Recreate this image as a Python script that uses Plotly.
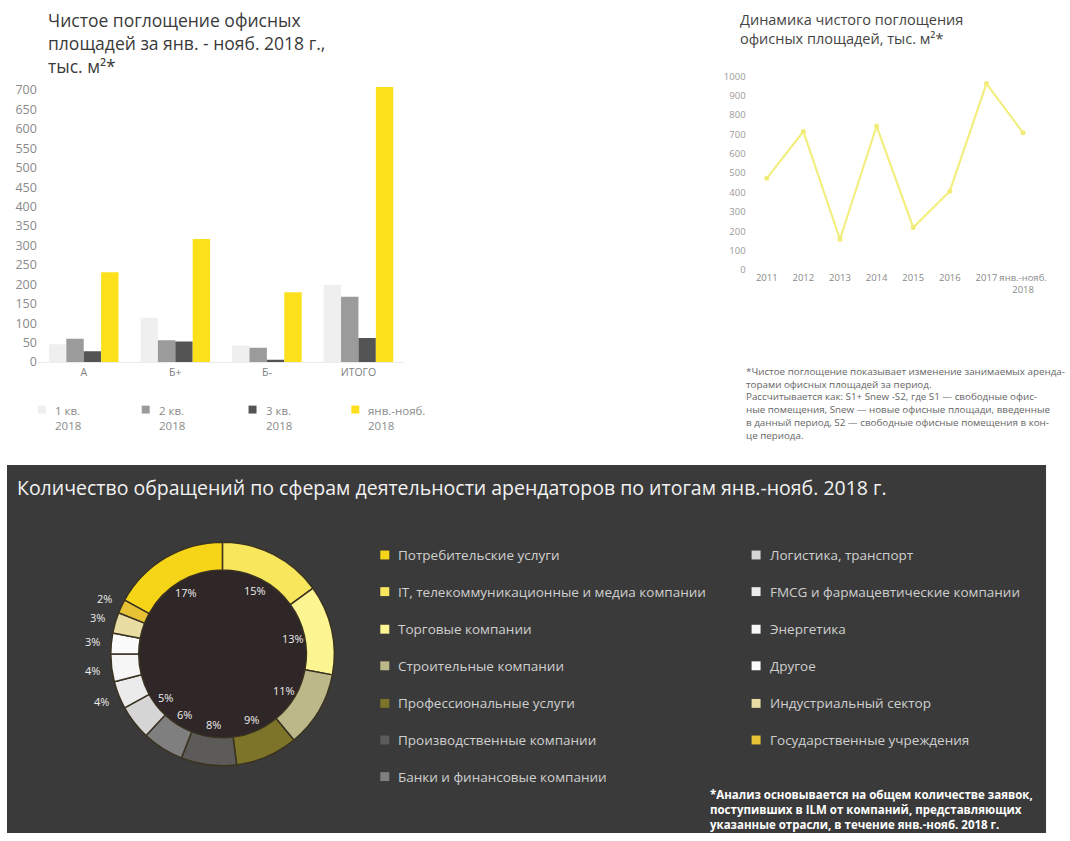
import math
import plotly.graph_objects as go

W, H = 1070, 841


def px(x):
    return x / W


def py(y):
    return 1 - y / H


# ---- Net absorption by class, Jan-Nov 2018 (thousand sq. m) ----
bar_categories = ["А", "Б+", "Б-", "ИТОГО"]
q1_2018 = [46, 114, 43, 199]
q2_2018 = [60, 56, 37, 168]
q3_2018 = [28, 53, 6, 62]
jan_nov_2018 = [231, 317, 180, 708]
bar_series_names = ["1 кв.<br>2018", "2 кв.<br>2018", "3 кв.<br>2018", "янв.-нояб.<br>2018"]
bar_colors = ["#efefef", "#9b9b9b", "#545454", "#fde01c"]

# ---- Net absorption dynamics (thousand sq. m) ----
years = ["2011", "2012", "2013", "2014", "2015", "2016", "2017", "янв.-нояб.<br>2018"]
absorption = [473, 715, 159, 743, 220, 407, 962, 708]

# ---- Tenant requests by industry, Jan-Nov 2018 (%) ----
sectors = [
    "Потребительские услуги",
    "IT, телекоммуникационные и медиа компании",
    "Торговые компании",
    "Строительные компании",
    "Профессиональные услуги",
    "Производственные компании",
    "Банки и финансовые компании",
    "Логистика, транспорт",
    "FMCG и фармацевтические компании",
    "Энергетика",
    "Другое",
    "Индустриальный сектор",
    "Государственные учреждения",
]
sector_share = [17, 15, 13, 11, 9, 8, 6, 5, 4, 4, 3, 3, 2]
sector_colors = [
    "#f6d417", "#f8e65c", "#fcf592", "#bdb88a", "#7d7429", "#5d5b59", "#7f7f7f",
    "#d5d5d5", "#ebebeb", "#f6f6f6", "#fbfbfb", "#eadda3", "#e6c234",
]

fig = go.Figure()

# grouped bars
series_values = [q1_2018, q2_2018, q3_2018, jan_nov_2018]
for name, vals, col in zip(bar_series_names, series_values, bar_colors):
    fig.add_trace(go.Bar(
        x=bar_categories, y=vals, name=name, marker=dict(color=col, line=dict(width=0)),
        xaxis="x", yaxis="y", showlegend=False,
    ))

# line chart
fig.add_trace(go.Scatter(
    x=years, y=absorption, mode="lines+markers",
    line=dict(color="#f3ee80", width=2.2),
    marker=dict(color="#f1ec78", size=5),
    xaxis="x2", yaxis="y2", showlegend=False,
))

# donut
pie_cx, pie_cy, pie_r = 223, 660, 113
rotation = -sector_share[0] / sum(sector_share) * 360
fig.add_trace(go.Pie(
    labels=sectors, values=sector_share, sort=False, direction="clockwise",
    rotation=rotation, hole=0.75, textinfo="none", showlegend=False,
    marker=dict(colors=sector_colors, line=dict(color="#3a3322", width=1.5)),
    domain=dict(x=[px(pie_cx - pie_r), px(pie_cx + pie_r)],
                y=[py(pie_cy + pie_r), py(pie_cy - pie_r)]),
    hoverinfo="label+percent",
))

shapes = [
    # dark panel behind the donut section
    dict(type="rect", xref="paper", yref="paper", x0=px(7), x1=px(1048), y0=py(841), y1=py(469),
         fillcolor="#3a3a3a", line=dict(width=0), layer="below"),
    # donut hole fill
    dict(type="circle", xref="paper", yref="paper",
         x0=px(pie_cx - 86), x1=px(pie_cx + 86), y0=py(pie_cy + 86), y1=py(pie_cy - 86),
         fillcolor="#2f2627", line=dict(width=0), layer="below"),
]

annotations = []

# bar legend: small squares with two-line captions
legend_x = [42, 146, 253, 356]
for lx, name, col in zip(legend_x, bar_series_names, bar_colors):
    shapes.append(dict(type="rect", xref="paper", yref="paper",
                       x0=px(lx - 4), x1=px(lx + 4), y0=py(417), y1=py(409),
                       fillcolor=col, line=dict(width=0)))
    annotations.append(dict(
        x=px(lx + 11), y=py(404), xref="paper", yref="paper", text=name, showarrow=False,
        xanchor="left", yanchor="top", align="left",
        font=dict(family="Open Sans", size=11.5, color="#8a8a8a"),
    ))

# donut percent labels
total = sum(sector_share)
start = rotation
for v in sector_share:
    mid = math.radians(start + v / total * 180)
    start += v / total * 360
    r = 72 if v >= 5 else 131
    lx = pie_cx + r * math.sin(mid)
    ly = pie_cy - r * math.cos(mid)
    annotations.append(dict(
        x=px(lx), y=py(ly), xref="paper", yref="paper", text=f"{v}%", showarrow=False,
        xanchor="center", yanchor="middle",
        font=dict(family="Open Sans", size=11, color="#ececec"),
    ))

# donut legend in two columns
left_rows = [560, 597, 635, 672, 710, 747, 784]
for i, (name, col) in enumerate(zip(sectors, sector_colors)):
    if i < 7:
        sx, ty = 381, left_rows[i]
    else:
        sx, ty = 753, left_rows[i - 7]
    shapes.append(dict(type="rect", xref="paper", yref="paper",
                       x0=px(sx), x1=px(sx + 9), y0=py(ty + 4.5), y1=py(ty - 4.5),
                       fillcolor=col, line=dict(width=0)))
    annotations.append(dict(
        x=px(sx + 16), y=py(ty), xref="paper", yref="paper", text=name, showarrow=False,
        xanchor="left", yanchor="middle",
        font=dict(family="Open Sans", size=13.5, color="#cfcfcf"),
    ))

# titles and notes
annotations += [
    dict(x=px(46), y=py(5), xref="paper", yref="paper", xanchor="left", yanchor="top", align="left",
         showarrow=False,
         text="Чистое поглощение офисных<br>площадей за янв. - нояб. 2018 г.,<br>тыс. м²*",
         font=dict(family="Open Sans", size=17.5, color="#3a3a3a")),
    dict(x=px(739), y=py(7), xref="paper", yref="paper", xanchor="left", yanchor="top", align="left",
         showarrow=False,
         text="Динамика чистого поглощения<br>офисных площадей, тыс. м²*",
         font=dict(family="Open Sans", size=14.5, color="#444444")),
    dict(x=px(745), y=py(366), xref="paper", yref="paper", xanchor="left", yanchor="top", align="left",
         showarrow=False,
         text=("*Чистое поглощение показывает изменение занимаемых аренда-<br>"
               "торами офисных площадей за период.<br>"
               "Рассчитывается как: S1+ Snew -S2, где S1 — свободные офис-<br>"
               "ные помещения, Snew — новые офисные площади, введенные<br>"
               "в данный период, S2 — свободные офисные помещения в кон-<br>"
               "це периода."),
         font=dict(family="Open Sans", size=9.8, color="#666666")),
    dict(x=px(15), y=py(492), xref="paper", yref="paper", xanchor="left", yanchor="middle",
         showarrow=False,
         text="Количество обращений по сферам деятельности арендаторов по итогам янв.-нояб. 2018 г.",
         font=dict(family="Open Sans", size=19.5, color="#f2f2f2")),
    dict(x=px(873), y=py(792), xref="paper", yref="paper", xanchor="center", yanchor="top", align="left",
         showarrow=False,
         text=("<b>*Анализ основывается на общем количестве заявок,<br>"
               "поступивших в ILM от компаний, представляющих<br>"
               "указанные отрасли, в течение янв.-нояб. 2018 г.</b>"),
         font=dict(family="Open Sans", size=11.5, color="#ffffff")),
]

# bar chart axes: 0 at y=365, 700 at y=90
bar_top = 365 - 720 * (275 / 700)
# line chart axes: 0 at y=272, 1000 at y=76
line_top = 272 - 1050 * (196 / 1000)

fig.update_layout(
    width=W, height=H, margin=dict(l=0, r=0, t=0, b=0),
    paper_bgcolor="white", plot_bgcolor="rgba(0,0,0,0)",
    font=dict(family="Open Sans", color="#777777"),
    barmode="group", bargap=0.24, bargroupgap=0,
    showlegend=False,
    xaxis=dict(domain=[px(38), px(405)], anchor="y", showgrid=False, zeroline=False,
               showline=True, linecolor="#ececec", linewidth=1, ticks="",
               tickfont=dict(size=10.5, color="#808080"), fixedrange=True),
    yaxis=dict(domain=[py(365), py(bar_top)], anchor="x", range=[0, 720],
               tickvals=list(range(0, 701, 50)), showgrid=False, zeroline=False,
               showline=False, ticks="", tickfont=dict(size=12.5, color="#8a8a8a")),
    xaxis2=dict(domain=[px(748), px(1047)], anchor="y2", type="category", range=[-0.55, 7.6],
                showgrid=False, zeroline=False, showline=False, ticks="",
                tickfont=dict(size=9.5, color="#8a8a8a")),
    yaxis2=dict(domain=[py(272), py(line_top)], anchor="x2", range=[0, 1050],
                tickvals=list(range(0, 1001, 100)), showgrid=False, zeroline=False,
                showline=False, ticks="", tickfont=dict(size=9.5, color="#9a9a9a")),
    shapes=shapes,
    annotations=annotations,
)

fig.write_html("out.html")
